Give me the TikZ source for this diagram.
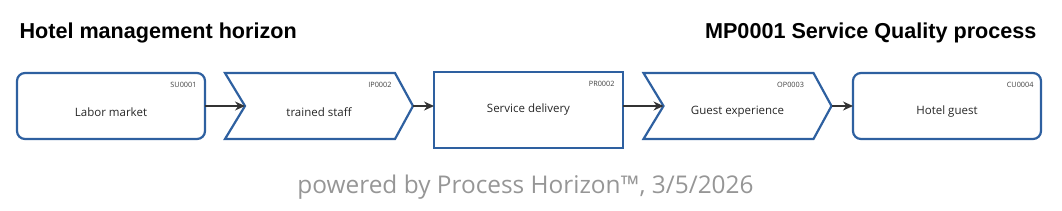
\documentclass[tikz,border=0pt]{standalone}
\usepackage{fontspec}
\usepackage{xcolor}
\usepackage{tikz}
\usetikzlibrary{arrows.meta}
\setmainfont{Open Sans}
\newfontfamily\titlefont{Liberation Sans}
\definecolor{boxblue}{RGB}{46,96,160}
\definecolor{arrowgray}{RGB}{51,51,51}
\definecolor{footgray}{RGB}{150,150,150}

\begin{document}
\begin{tikzpicture}[x=1pt, y=-1pt,
    box/.style={draw=boxblue, line width=2.2pt, inner sep=0pt, outer sep=0pt, minimum width=188pt, minimum height=66pt},
    rbox/.style={box, rounded corners=8pt},
    chevnode/.style={inner sep=0pt, outer sep=0pt, minimum width=188pt, minimum height=66pt},
    chev/.style={draw=boxblue, line width=2.2pt, line join=miter},
    flow/.style={draw=arrowgray, line width=1.4pt, -{Stealth[length=10pt, width=9pt]}},
    objname/.style={font=\fontsize{11.5}{13}\selectfont, text=black!85},
    idcode/.style={font=\fontsize{7.3}{8}\selectfont, text=black!75, anchor=north east},
    heading/.style={font=\titlefont\bfseries\fontsize{21.6}{24}\selectfont}]
    \useasboundingbox (0,0) rectangle (1062,210);
    \node[heading, anchor=base west] (title) at (16,38) {Hotel management horizon};
    \node[heading, anchor=base east] (proc) at (1040,38) {MP0001 Service Quality process};

    \node[rbox] (b1) at (111,106) {};
    \node[chevnode] (c2) at (319,106) {};
    \node[box, minimum width=189pt, minimum height=76pt] (b3) at (528.5,110) {};
    \node[chevnode] (c4) at (737.5,106) {};
    \node[rbox] (b5) at (947,106) {};

    \foreach \n in {c2,c4}
        \draw[chev] (\n.north west) -- ([xshift=-18pt]\n.north east) -- (\n.east)
            -- ([xshift=-18pt]\n.south east) -- (\n.south west) -- ([xshift=20pt]\n.west) -- cycle;
    \coordinate (c2in) at ([xshift=20pt]c2.west);
    \coordinate (c4in) at ([xshift=20pt]c4.west);

    \node[objname] (n1) at ([yshift=-6pt]b1.center) {Labor market};
    \node[objname] (n2) at ([yshift=-6pt]c2.center) {trained staff};
    \node[objname] (n3) at (b3.center) {Service delivery};
    \node[objname] (n4) at ([yshift=-6pt]c4.center) {Guest experience};
    \node[objname] (n5) at ([yshift=-6pt]b5.center) {Hotel guest};

    \node[idcode] (k1) at ([xshift=-5pt, yshift=-6pt]b1.north east) {SU0001};
    \node[idcode] (k2) at ([xshift=-18pt, yshift=-6pt]c2.north east) {IP0002};
    \node[idcode] (k3) at ([xshift=-5pt, yshift=-6pt]b3.north east) {PR0002};
    \node[idcode] (k4) at ([xshift=-24pt, yshift=-6pt]c4.north east) {OP0003};
    \node[idcode] (k5) at ([xshift=-4pt, yshift=-6pt]b5.north east) {CU0004};

    \draw[flow] (b1.east) -- (c2in);
    \draw[flow] (c2.east) -- (c2.east -| b3.west);
    \draw[flow] (c4in -| b3.east) -- (c4in);
    \draw[flow] (c4.east) -- (b5.west);

    \node[anchor=base, font=\fontsize{24.4}{26}\selectfont, text=footgray] (foot) at (525.5,193) {powered by Process Horizon™, 3/5/2026};
\end{tikzpicture}
\end{document}
